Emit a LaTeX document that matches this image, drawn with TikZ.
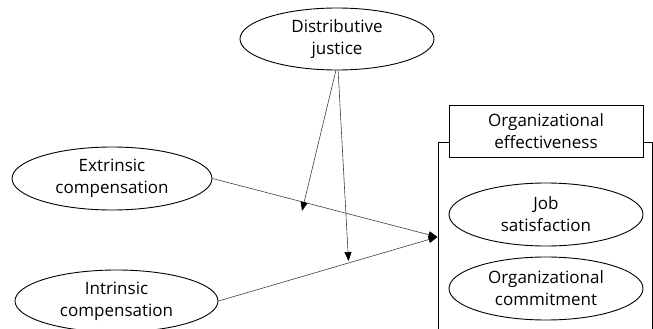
\documentclass[tikz,border=0pt]{standalone}
\usepackage{fontspec}
\setmainfont{Open Sans}
\usetikzlibrary{shapes.geometric,arrows.meta}
\begin{document}
\begin{tikzpicture}[x=1pt,y=-1pt,
 lbl/.style={align=center,font=\fontsize{17}{22}\selectfont},
 ell/.style={ellipse,draw,line width=0.9pt,inner sep=0pt,lbl},
 boxnode/.style={rectangle,draw,line width=0.9pt,inner sep=0pt,lbl},
 conn/.style={draw=black!75,line width=0.6pt},
 tip/.style={-{Triangle[length=9pt,width=7pt,color=black]}}]
\useasboundingbox (0,0) rectangle (653,329);
\clip (0,0) rectangle (653,329);
\node[ell,minimum width=194pt,minimum height=62pt] (dj) at (337,39) {Distributive\\justice};
\node[ell,minimum width=200pt,minimum height=63pt] (ext) at (112,178.5) {Extrinsic\\compensation};
\node[ell,minimum width=203pt,minimum height=62pt] (int) at (116.5,301) {Intrinsic\\compensation};
\node[boxnode,minimum width=194pt,minimum height=52pt] (oe) at (546,131) {Organizational\\effectiveness};
\node[ell,minimum width=194pt,minimum height=63pt] (js) at (546,214.5) {Job\\satisfaction};
\node[ell,minimum width=194pt,minimum height=63pt] (oc) at (546,288.5) {Organizational\\commitment};
\coordinate (fl) at (438,142);
\coordinate (fr) at (652,142);
\draw[line width=0.9pt] (438,340) -- (fl) -- (oe.west |- fl);
\draw[line width=0.9pt] (oe.east |- fr) -- (fr) -- (652,340);
\coordinate (in) at (437.5,237);
\coordinate (a1) at (302,211);
\coordinate (a2) at (348.5,261);
\draw[conn,tip] (ext.east) -- (in);
\draw[conn,tip] (int.east) -- (in);
\draw[conn,tip] (dj.268) -- (a1);
\draw[conn,tip] (dj.272) -- (a2);
\end{tikzpicture}
\end{document}
